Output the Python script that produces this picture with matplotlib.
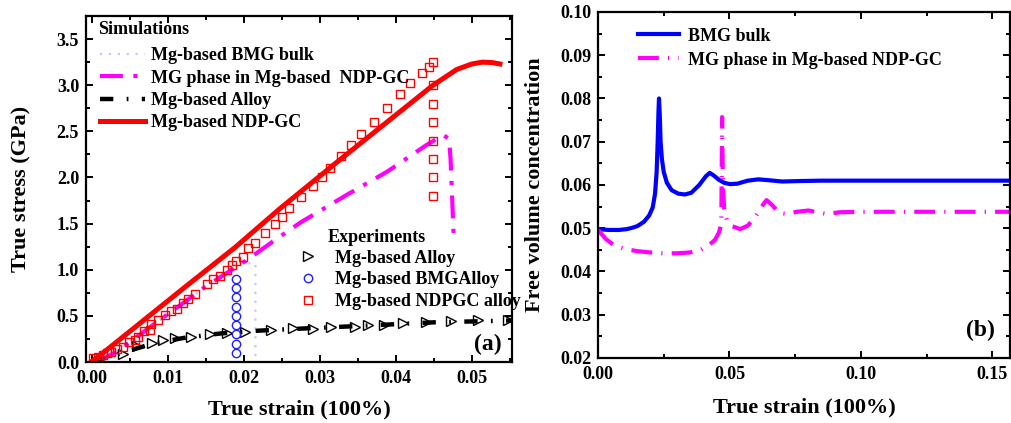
import numpy as np
import matplotlib
matplotlib.use("Agg")
import matplotlib.pyplot as plt
from matplotlib.ticker import MultipleLocator

plt.rcParams['font.family'] = ['Liberation Serif', 'DejaVu Serif']
plt.rcParams['font.weight'] = 'bold'
plt.rcParams['axes.labelweight'] = 'bold'

# ---- panel (a): simulations ----
ndp_x = [0.0, 0.001, 0.0057, 0.0122, 0.0188, 0.0247, 0.0326, 0.0449,
         0.048, 0.0500, 0.0514, 0.0527, 0.0537]
ndp_y = [0.01, 0.07, 0.38, 0.81, 1.24, 1.66, 2.19, 3.00,
         3.17, 3.23, 3.25, 3.245, 3.23]

mgph_x = [0.0005, 0.003, 0.006, 0.010, 0.015, 0.0203, 0.0237, 0.0274, 0.0335,
          0.0388, 0.0440, 0.0462, 0.0470, 0.0472, 0.0474, 0.0476]
mgph_y = [0.0, 0.10, 0.28, 0.52, 0.82, 1.10, 1.30, 1.51, 1.81,
          2.06, 2.35, 2.46, 2.42, 2.20, 1.80, 1.38]

bmg_x = [0.0, 0.003, 0.006, 0.010, 0.015, 0.0195, 0.0215, 0.0215]
bmg_y = [0.0, 0.10, 0.28, 0.52, 0.82, 1.07, 1.07, 0.03]

alloy_x = [0.0, 0.004, 0.008, 0.012, 0.017, 0.022, 0.027, 0.035, 0.045, 0.0553]
alloy_y = [0.0, 0.10, 0.20, 0.26, 0.31, 0.34, 0.36, 0.39, 0.43, 0.45]

# ---- panel (a): experiments ----
exp_alloy_x = [0.0041, 0.0059, 0.0079, 0.0093, 0.0109, 0.0130, 0.0155, 0.0177,
               0.0201, 0.0236, 0.0264, 0.0291, 0.0315, 0.0346, 0.0363, 0.0385,
               0.0410, 0.0440, 0.0473, 0.0508, 0.0547]
exp_alloy_y = [0.09, 0.17, 0.21, 0.24, 0.26, 0.27, 0.30, 0.31,
               0.33, 0.35, 0.37, 0.36, 0.38, 0.38, 0.40, 0.40,
               0.42, 0.43, 0.44, 0.45, 0.45]

exp_bmg_x = [0.0189] * 9
exp_bmg_y = [0.1, 0.2, 0.3, 0.4, 0.5, 0.6, 0.7, 0.8, 0.9]

exp_ndp_x = [0.0001, 0.0008, 0.0014, 0.0019, 0.0025, 0.0033, 0.0041, 0.0048,
             0.0056, 0.0060, 0.0068, 0.0076, 0.0078, 0.0087, 0.0096, 0.0104,
             0.0112, 0.0120, 0.0126, 0.0135, 0.0151, 0.0159, 0.0168, 0.0177,
             0.0184, 0.0190, 0.0199, 0.0205, 0.0214, 0.0228, 0.0241, 0.0250,
             0.0259, 0.0275, 0.0291, 0.0303, 0.0313, 0.0328, 0.0341, 0.0354,
             0.0371, 0.0388, 0.0405, 0.0418, 0.0434, 0.0443, 0.0449,
             0.0449, 0.0449, 0.0449, 0.0449, 0.0449, 0.0449, 0.0449]
exp_ndp_y = [0.04, 0.05, 0.076, 0.094, 0.11, 0.14, 0.166, 0.22,
             0.24, 0.275, 0.336, 0.347, 0.41, 0.46, 0.51, 0.556,
             0.574, 0.636, 0.68, 0.737, 0.85, 0.90, 0.93, 1.00,
             1.05, 1.09, 1.14, 1.24, 1.29, 1.40, 1.50, 1.57,
             1.67, 1.79, 1.91, 2.00, 2.10, 2.23, 2.35, 2.47,
             2.60, 2.75, 2.90, 3.02, 3.13, 3.20, 3.25,
             3.00, 2.80, 2.60, 2.40, 2.20, 2.00, 1.80]

# ---- panel (b): free volume ----
fv_bmg_x = [0.0, 0.004, 0.008, 0.011, 0.013, 0.0150, 0.0175, 0.0195, 0.0208,
            0.0217, 0.0223, 0.0227, 0.0230, 0.0232, 0.0235, 0.0238, 0.0243,
            0.0250, 0.0262, 0.0280, 0.0305, 0.0330, 0.0355, 0.0385, 0.0410,
            0.0425, 0.0440, 0.0460, 0.0480, 0.0502, 0.0530, 0.0570, 0.0610,
            0.0650, 0.0700, 0.0760, 0.0850, 0.1000, 0.1570]
fv_bmg_y = [0.0498, 0.0496, 0.0496, 0.0498, 0.0501, 0.0505, 0.0515, 0.0530, 0.0548,
            0.0580, 0.0630, 0.0700, 0.0770, 0.0800, 0.0760, 0.0700, 0.0660,
            0.0630, 0.0605, 0.0588, 0.0580, 0.0578, 0.0582, 0.0600, 0.0620,
            0.0628, 0.0622, 0.0612, 0.0605, 0.0602, 0.0603, 0.0610, 0.0613,
            0.0611, 0.0608, 0.0609, 0.0610, 0.0610, 0.0610]

fv_mg_x = [0.0, 0.003, 0.006, 0.010, 0.015, 0.020, 0.025, 0.030, 0.035, 0.039,
           0.042, 0.0445, 0.0460, 0.0469, 0.0472, 0.0475, 0.0480, 0.0490,
           0.0510, 0.0540, 0.0570, 0.0600, 0.0625, 0.0641, 0.0660, 0.0690,
           0.0720, 0.0755, 0.0800, 0.0869, 0.0920, 0.1000, 0.1570]
fv_mg_y = [0.0496, 0.0475, 0.0461, 0.0452, 0.0447, 0.0444, 0.0442, 0.0442,
           0.0444, 0.0450, 0.0460, 0.0473, 0.0490, 0.0510, 0.0757, 0.0600,
           0.0545, 0.0519, 0.0505, 0.0498, 0.0506, 0.0528, 0.0552, 0.0565,
           0.0555, 0.0535, 0.0533, 0.0538, 0.0541, 0.0533, 0.0537, 0.0538, 0.0538]

fig = plt.figure(figsize=(10.11, 4.23), dpi=100)
ax1 = fig.add_axes([0.0851, 0.1442, 0.4214, 0.818])
ax2 = fig.add_axes([0.5915, 0.1537, 0.4075, 0.818])


def style_axes(ax):
    for s in ax.spines.values():
        s.set_linewidth(1.6)
    ax.tick_params(which='both', direction='in', top=True, right=True,
                   width=1.4, labelsize=13)
    ax.tick_params(which='major', length=5)
    ax.tick_params(which='minor', length=3)
    ax.tick_params(axis='x', pad=6)
    ax.tick_params(axis='y', pad=5)
    for lab in ax.get_xticklabels() + ax.get_yticklabels():
        lab.set_fontweight('bold')


# panel (a)
l_bmg, = ax1.plot(bmg_x, bmg_y, color='#c4c4ff', lw=1.6, ls=(0, (1, 3)))
l_mg, = ax1.plot(mgph_x, mgph_y, color='#ff00ff', lw=3, ls=(0, (5.5, 2.5, 1, 2.5)))
l_al, = ax1.plot(alloy_x, alloy_y, color='black', lw=3.2, ls=(0, (3, 3, 0.4, 3)))
l_ndp, = ax1.plot(ndp_x, ndp_y, color='#ff0000', lw=3.6)

m_al, = ax1.plot(exp_alloy_x, exp_alloy_y, ls='none', marker='>', ms=7,
                 mfc='none', mec='black', mew=1.0)
m_bmg, = ax1.plot(exp_bmg_x, exp_bmg_y, ls='none', marker='o', ms=6,
                  mfc='none', mec='#1f1fff', mew=1.0)
m_ndp, = ax1.plot(exp_ndp_x, exp_ndp_y, ls='none', marker='s', ms=6,
                  mfc='none', mec='#ff0000', mew=1.0)

ax1.set_xlim(-0.0008, 0.0553)
ax1.set_ylim(0, 3.75)
ax1.xaxis.set_major_locator(MultipleLocator(0.01))
ax1.xaxis.set_minor_locator(MultipleLocator(0.005))
ax1.yaxis.set_major_locator(MultipleLocator(0.5))
ax1.yaxis.set_minor_locator(MultipleLocator(0.25))
ax1.xaxis.set_major_formatter(lambda v, p: f"{v:.2f}")
ax1.yaxis.set_major_formatter(lambda v, p: f"{v:.1f}")
style_axes(ax1)
ax1.set_xlabel('True strain (100%)', fontsize=16, labelpad=9)
ax1.set_ylabel('True stress (GPa)', fontsize=16, labelpad=18)

ax1.text(0.028, 0.96, 'Simulations', transform=ax1.transAxes,
         fontsize=13, fontweight='bold', va='center', ha='left')
leg1 = ax1.legend([l_bmg, l_mg, l_al, l_ndp],
                  ['Mg-based BMG bulk', 'MG phase in Mg-based  NDP-GC',
                   'Mg-based Alloy', 'Mg-based NDP-GC'],
                  loc='upper left', bbox_to_anchor=(0.033, 0.91), frameon=False,
                  borderpad=0, borderaxespad=0, handlelength=2.5,
                  handletextpad=0.3, labelspacing=0.3,
                  prop={'size': 13, 'weight': 'bold'})
ax1.add_artist(leg1)

ax1.text(0.566, 0.36, 'Experiments', transform=ax1.transAxes,
         fontsize=13, fontweight='bold', va='center', ha='left')
ax1.legend([m_al, m_bmg, m_ndp],
           ['Mg-based Alloy', 'Mg-based BMGAlloy', 'Mg-based NDPGC alloy'],
           loc='upper left', bbox_to_anchor=(0.50, 0.325), frameon=False,
           borderpad=0, borderaxespad=0, handlelength=1.0,
           handletextpad=1.0, labelspacing=0.26,
           prop={'size': 13, 'weight': 'bold'})
ax1.text(0.976, 0.02, '(a)', transform=ax1.transAxes, fontsize=17,
         fontweight='bold', ha='right', va='bottom')

# panel (b)
ax2.plot(fv_bmg_x, fv_bmg_y, color='#0000ff', lw=3, label='BMG bulk')
ax2.plot(fv_mg_x, fv_mg_y, color='#ff00ff', lw=3, ls=(0, (5, 2.2, 0.3, 2.2)),
         label='MG phase in Mg-based NDP-GC')
ax2.set_xlim(0, 0.1567)
ax2.set_ylim(0.02, 0.10)
ax2.xaxis.set_major_locator(MultipleLocator(0.05))
ax2.xaxis.set_minor_locator(MultipleLocator(0.025))
ax2.yaxis.set_major_locator(MultipleLocator(0.01))
ax2.yaxis.set_minor_locator(MultipleLocator(0.005))
ax2.xaxis.set_major_formatter(lambda v, p: f"{v:.2f}")
ax2.yaxis.set_major_formatter(lambda v, p: f"{v:.2f}")
style_axes(ax2)
ax2.set_xlabel('True strain (100%)', fontsize=16, labelpad=10)
ax2.set_ylabel('Free volume concentration', fontsize=16, labelpad=11)
ax2.legend(loc='upper left', bbox_to_anchor=(0.097, 0.955), frameon=False,
           borderpad=0, borderaxespad=0, handlelength=2.3, handletextpad=0.45,
           labelspacing=0.4, prop={'size': 13, 'weight': 'bold'})
ax2.text(0.964, 0.05, '(b)', transform=ax2.transAxes, fontsize=17,
         fontweight='bold', ha='right', va='bottom')

fig.savefig('out.png', dpi=100)
